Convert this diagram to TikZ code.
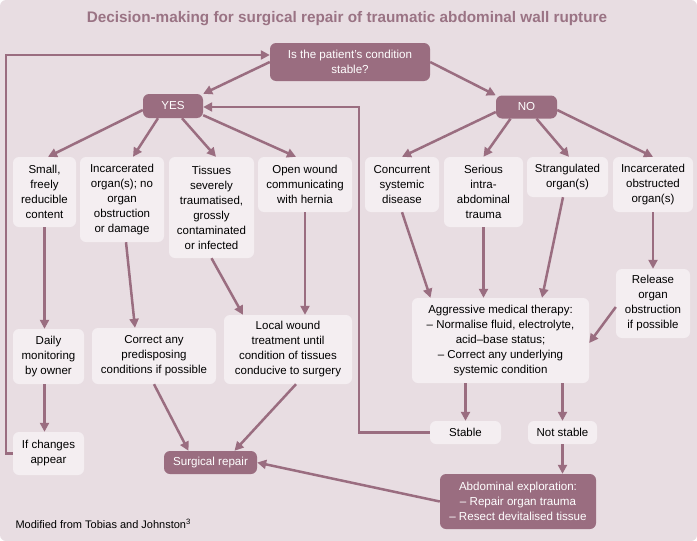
\documentclass[tikz,border=0pt]{standalone}
\usepackage{fontspec}
\setmainfont{Liberation Sans}
\usetikzlibrary{positioning, arrows.meta, calc}

\definecolor{mauve}{HTML}{9A6D80}
\definecolor{bgpink}{HTML}{E8DDE2}
\definecolor{boxpink}{HTML}{F4EEF1}
\definecolor{titlemauve}{HTML}{9A7384}

\begin{document}
\begin{tikzpicture}[
    x=1pt, y=-1pt,
    font=\fontsize{11.5}{15}\selectfont,
    light/.style={fill=boxpink, rounded corners=6pt, align=center, inner sep=0pt},
    dark/.style={fill=mauve, text=white, rounded corners=6pt, align=center, inner sep=0pt,
                 font=\fontsize{11.6}{15}\selectfont},
    link/.style={draw=mauve, line width=2.5pt, -{Triangle[length=9pt, width=9pt]}}
]

% Background and title
\useasboundingbox (0,0) rectangle (697,541);
\fill[bgpink, rounded corners=6pt] (0,0) rectangle (697,541);
\node[text=titlemauve, font=\fontsize{15.3}{17}\selectfont\bfseries] (title) at (347,19)
    {Decision-making for surgical repair of traumatic abdominal wall rupture};

% ==========================================
% Question and the two answers
\node[dark, minimum width=160pt, minimum height=38pt] (q) at (350,62) {Is the patient's condition\\stable?};
\node[dark, minimum width=60pt, minimum height=24pt] (yes) at (173,106) {YES};
\node[dark, minimum width=61pt, minimum height=23pt] (no) at (526.5,107) {NO};

% ==========================================
% YES branch
\node[light, minimum width=63pt, minimum height=70pt] (small) at (44.5,192) {Small,\\freely\\reducible\\content};
\node[light, minimum width=84pt, minimum height=85pt] (incar) at (122,199.5) {Incarcerated\\organ(s); no\\organ\\obstruction\\or damage};
\node[light, minimum width=85pt, minimum height=101pt] (tissues) at (211.5,207.5) {Tissues\\severely\\traumatised,\\grossly\\contaminated\\or infected};
\node[light, minimum width=94pt, minimum height=55pt] (open) at (305,184.5) {Open wound\\communicating\\with hernia};

\node[light, minimum width=71pt, minimum height=55pt] (daily) at (48.5,356.5) {Daily\\monitoring\\by owner};
\node[light, minimum width=124pt, minimum height=56pt] (correct) at (154,356) {Correct any\\predisposing\\conditions if possible};
\node[light, minimum width=128pt, minimum height=69pt] (local) at (288,349.5) {Local wound\\treatment until\\condition of tissues\\conducive to surgery};
\node[light, minimum width=71pt, minimum height=43pt] (ifch) at (48.5,453.5) {If changes\\appear};
\node[dark, minimum width=93pt, minimum height=23pt] (surg) at (210.5,462.5) {Surgical repair};

% ==========================================
% NO branch
\node[light, minimum width=74pt, minimum height=55pt] (concur) at (402,184.5) {Concurrent\\systemic\\disease};
\node[light, minimum width=79pt, minimum height=70pt] (serious) at (483.5,192) {Serious\\intra-\\abdominal\\trauma};
\node[light, minimum width=81pt, minimum height=40pt] (strang) at (567.5,177) {Strangulated\\organ(s)};
\node[light, minimum width=80pt, minimum height=55pt] (incob) at (653,184.5) {Incarcerated\\obstructed\\organ(s)};

\node[light, minimum width=74pt, minimum height=69pt] (release) at (653,303.5) {Release\\organ\\obstruction\\if possible};
\node[light, minimum width=177pt, minimum height=85pt] (aggr) at (500.5,340.5) {Aggressive medical therapy:\\--~Normalise fluid, electrolyte,\\acid--base status;\\--~Correct any underlying\\systemic condition};
\node[light, minimum width=71pt, minimum height=23pt] (stable) at (465.5,432.5) {Stable};
\node[light, minimum width=69pt, minimum height=23pt] (notstable) at (562.5,432.5) {Not stable};
\node[dark, minimum width=156pt, minimum height=55pt] (abdo) at (518,501.5) {Abdominal exploration:\\--~Repair organ trauma\\--~Resect devitalised tissue};

\node[anchor=west, font=\fontsize{11}{13}\selectfont] (note) at (12,524) {Modified from Tobias and Johnston\textsuperscript{3}};

% ==========================================
% Connectors
\draw[link] (q.west) -- (yes.north east);
\draw[link] (q.east) -- (no.north west);

\draw[link] ([yshift=-4pt]yes.west) -- ([xshift=3.5pt]small.north);
\draw[link] ([xshift=-15pt]yes.south) -- ([xshift=11pt]incar.north);
\draw[link] ([xshift=9pt]yes.south) -- ([xshift=4.5pt]tissues.north);
\draw[link] ([yshift=3pt]yes.south east) -- ([xshift=-9pt]open.north);

\draw[link] ([yshift=-5pt]no.west) -- (concur.north);
\draw[link] ([xshift=-16pt]no.south) -- (serious.north);
\draw[link] ([xshift=10pt]no.south) -- ([xshift=1.5pt]strang.north);
\draw[link] ([yshift=-3pt]no.east) -- (incob.north);

\draw[link] (small.south) -- (small.south |- daily.north);
\draw[link] ([xshift=4pt]incar.south) -- ([xshift=-19pt]correct.north);
\draw[link] (tissues.south) -- ([xshift=-45pt]local.north);
\draw[link] (open.south) -- (open.south |- local.north);
\draw[link] ([xshift=-4pt]daily.south) -- ([xshift=-4pt]ifch.north);
\draw[link] (correct.south) -- ([xshift=-22pt]surg.north);
\draw[link] ([xshift=8pt]local.south) -- ([xshift=24pt]surg.north);

\draw[link] (concur.south) -- ([xshift=-70pt]aggr.north);
\draw[link] (serious.south) -- (serious.south |- aggr.north);
\draw[link] ([xshift=-4.5pt]strang.south) -- ([xshift=41.5pt]aggr.north);
\draw[link] (incob.south) -- (release.north);
\draw[link] ([yshift=-3.5pt]release.west) -- ([yshift=-2.5pt]aggr.east);
\draw[link] (aggr.south -| stable.north) -- (stable.north);
\draw[link] (aggr.south -| notstable.north) -- (notstable.north);
\draw[link] (notstable.south) -- (notstable.south |- abdo.north);
\draw[link] (abdo.west) -- (surg.east);

% Loops back to the question
\draw[link] (ifch.west) -- ++(-7,0) |- ([yshift=7pt]q.west);
\draw[link] (stable.west) -- ++(-71,0) |- ([yshift=-1pt]yes.east);

\end{tikzpicture}
\end{document}
